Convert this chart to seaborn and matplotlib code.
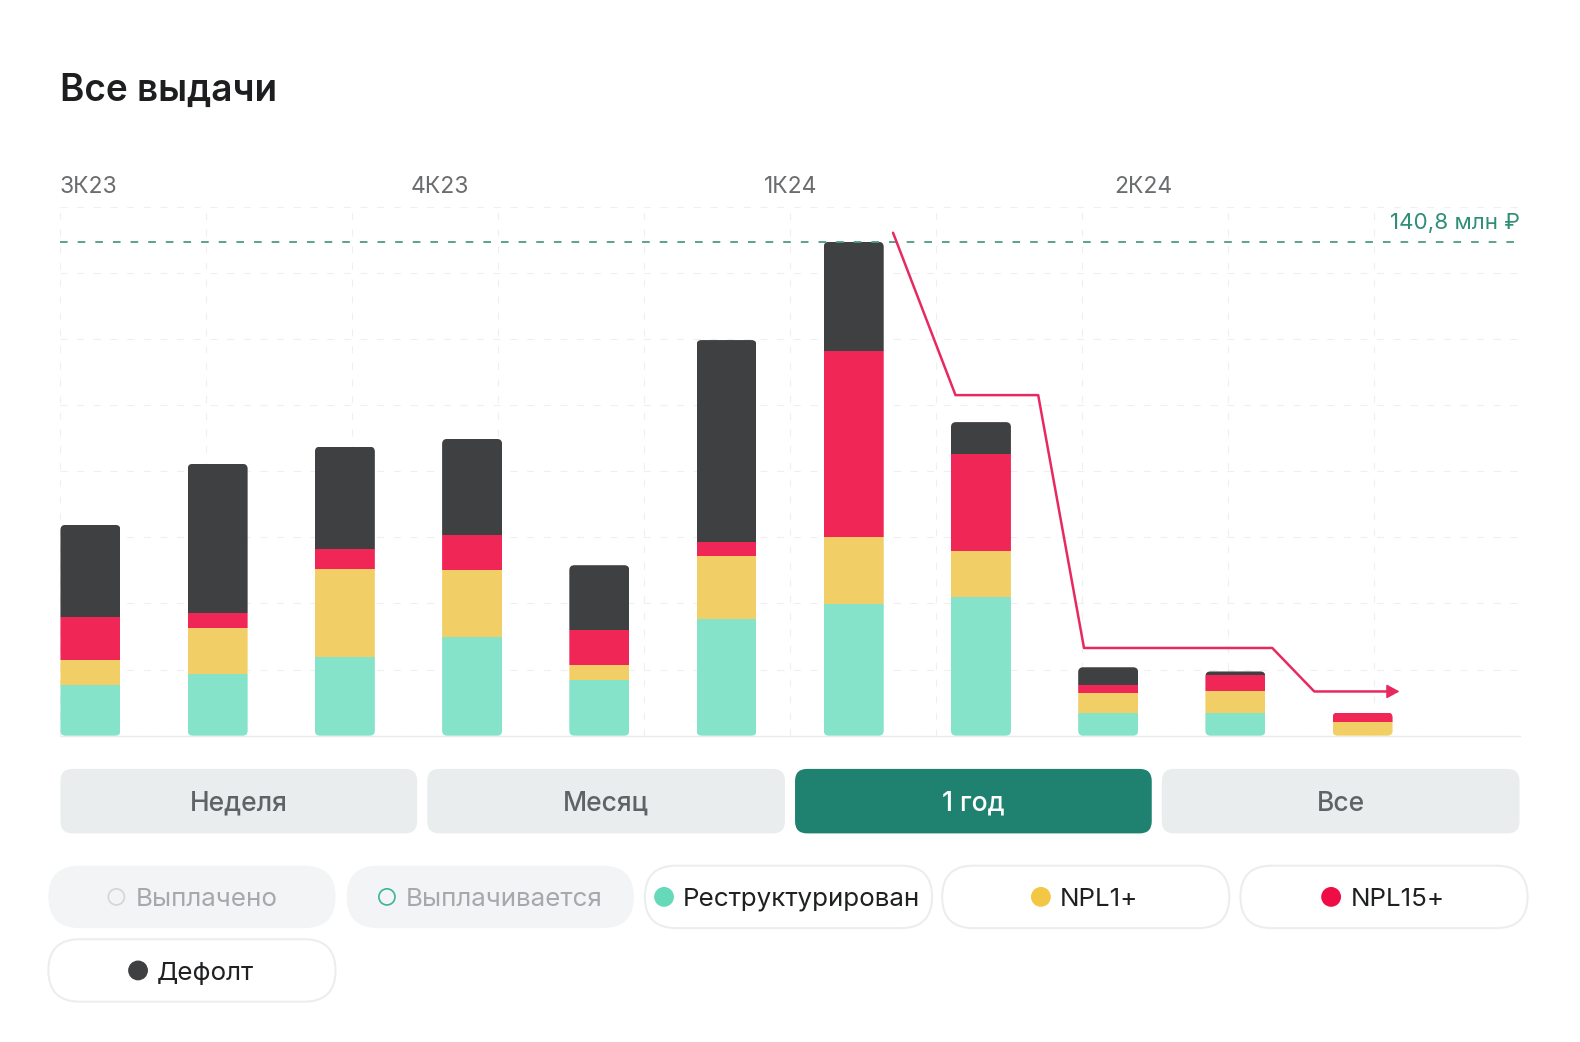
import numpy as np
import pandas as pd
import seaborn as sns
import matplotlib.pyplot as plt
from matplotlib.patches import FancyBboxPatch, Circle
from matplotlib.transforms import Bbox, IdentityTransform

# values in mln rubles
periods = [str(i) for i in range(1, 12)]
restructured = [14.4, 17.5, 22.4, 28.2, 15.8, 33.3, 37.4, 39.4, 6.6, 6.6, 0]
npl1 = [7.2, 13.2, 25.0, 19.0, 4.3, 17.8, 19.2, 13.2, 5.7, 6.0, 4.0]
npl15 = [12.1, 4.3, 5.7, 10.1, 10.1, 4.0, 53.2, 27.6, 2.0, 4.6, 2.6]
default = [26.4, 42.5, 29.3, 27.3, 18.4, 57.7, 31.0, 9.2, 5.2, 1.1, 0]
max_value = 140.8
line_x = [6.309, 6.80, 7.45, 7.81, 9.29, 9.62, 10.22]
line_y = [143.4, 97.1, 97.1, 25.0, 25.0, 12.6, 12.6]
arrow_tip_x = 10.29

quarters = ['3К23', '4К23', '1К24', '2К24']
periods_buttons = ['Неделя', 'Месяц', '1 год', 'Все']
chips = ['Выплачено', 'Выплачивается', 'Реструктурирован', 'NPL1+', 'NPL15+', 'Дефолт']

TEAL = '#84E3C8'
YELLOW = '#F2CF66'
RED = '#F02657'
DARK = '#3F4041'
GREEN = '#1F8270'

sns.set_theme(style='white')
plt.rcParams['font.family'] = ['Inter', 'DejaVu Sans']
plt.rcParams['lines.scale_dashes'] = False

W, H = 1568, 1034  # layout units
fig = plt.figure(figsize=(15.8, 10.42), dpi=100, facecolor='white')
rect = [60 / W, 1 - 730 / H, 1448 / W, 525 / H]
y_max = max_value * 525 / 490

# dashed background grid
ax_grid = fig.add_axes(rect)
ax_grid.set_xlim(0, 10)
ax_grid.set_ylim(0, 8)
ax_grid.set_xticks(range(11))
ax_grid.set_yticks(range(9))
ax_grid.grid(True, color='#EDEFF0', linewidth=0.8, linestyle=(0, (5, 7)))
ax_grid.tick_params(length=0, labelbottom=False, labelleft=False)
sns.despine(ax=ax_grid, left=True, top=True, right=True, bottom=False)
ax_grid.spines['bottom'].set_color('#E9ECEC')
ax_grid.spines['bottom'].set_linewidth(1)

# stacked bars
ax = fig.add_axes(rect, facecolor='none')
df = pd.DataFrame({'period': periods, 'r': restructured, 'y': npl1, 'n': npl15, 'd': default})
bottom = np.zeros(len(periods))
for col, color in zip(['r', 'y', 'n', 'd'], [TEAL, YELLOW, RED, DARK]):
    sns.barplot(data=df, x='period', y=col, order=periods, color=color, saturation=1,
                width=59.5 / 126.25, errorbar=None, bottom=bottom, linewidth=0, ax=ax)
    bottom = bottom + df[col].values

half = 59.5 / 126.25 / 2
ax.set_xlim(-half, -half + 1448 / 126.25)
ax.set_ylim(0, y_max)
ax.set_xlabel('')
ax.set_ylabel('')
ax.set_xticks([])
ax.set_yticks([])
sns.despine(ax=ax, left=True, bottom=True)

# rounded corners: clip every stack to one rounded box
n = len(periods)
for i in range(n):
    stack = [p for p in ax.patches[i::n] if p.get_height() > 0]
    box = Bbox.union([p.get_window_extent() for p in stack])
    clip = FancyBboxPatch((box.x0, box.y0), box.width, box.height,
                          boxstyle='round,pad=0,rounding_size=5', transform=IdentityTransform())
    for p in stack:
        p.set_clip_path(clip)

# limit line and label
ax.axhline(max_value, color='#4F9A86', linewidth=1.3, linestyle=(0, (5.5, 7.2)), zorder=1)

# trend line with the arrow
sns.lineplot(x=line_x, y=line_y, sort=False, estimator=None, color='#E8295F', linewidth=1.8, ax=ax, zorder=5)
ax.annotate('', xy=(arrow_tip_x, line_y[-1]), xytext=(line_x[-1] - 0.02, line_y[-1]), zorder=5,
            arrowprops=dict(arrowstyle='-|>,head_length=0.55,head_width=0.3', color='#E8295F',
                            linewidth=1.2, mutation_scale=14, shrinkA=0, shrinkB=0))

# title, labels, buttons and chips in layout units
ui = fig.add_axes([0, 0, 1, 1], facecolor='none')
ui.set_xlim(0, W)
ui.set_ylim(H, 0)
ui.axis('off')

ui.text(60, 90, 'Все выдачи', fontsize=26.6, fontweight='semibold', color='#1C1E1F', va='center', ha='left')
for label, x in zip(quarters, [59, 408, 758, 1105.5]):
    ui.text(x, 185.5, label, fontsize=16.5, color='#6A6C6E', va='center', ha='left')
ui.text(1508, 221, '140,8 млн ₽', fontsize=16.1, color='#2F8E76', va='center', ha='right')

for i, (label, x0, x1) in enumerate(zip(periods_buttons, [60, 424, 789, 1153], [414, 779, 1143, 1508])):
    active = label == '1 год'
    ui.add_patch(FancyBboxPatch((x0, 763), x1 - x0, 64, boxstyle='round,pad=0,rounding_size=12',
                                facecolor=GREEN if active else '#E9EDEE', edgecolor='none'))
    ui.text((x0 + x1) / 2, 804.5, label, fontsize=19, fontweight='medium',
            color='white' if active else '#5F6365', va='baseline', ha='center')

chip_x = [48, 344, 640, 935, 1231, 48]
chip_y = [859, 859, 859, 859, 859, 932]
dot_x = [115.5, 384, 659, 1033, 1321, 137]
dot_fill = ['none', 'none', '#66D9BB', '#F2C744', '#EE0E45', '#3F4041']
dot_edge = ['#D3D5D6', '#3DB497', '#66D9BB', '#F2C744', '#EE0E45', '#3F4041']
for i, label in enumerate(chips):
    off = i < 2
    ui.add_patch(FancyBboxPatch((chip_x[i], chip_y[i]), 285, 62, boxstyle='round,pad=0,rounding_size=31',
                                facecolor='#F2F4F5' if off else 'white',
                                edgecolor='none' if off else '#ECEEEE', linewidth=1.5))
    ui.add_patch(Circle((dot_x[i], chip_y[i] + 31), 8 if off else 9, facecolor=dot_fill[i],
                        edgecolor=dot_edge[i], linewidth=1.2))
    ui.text(dot_x[i] + 19, chip_y[i] + 40, label, fontsize=18.7, color='#A6A8AB' if off else '#1E2021',
            va='baseline', ha='left')

fig.savefig('out.png', dpi=100, facecolor='white')
